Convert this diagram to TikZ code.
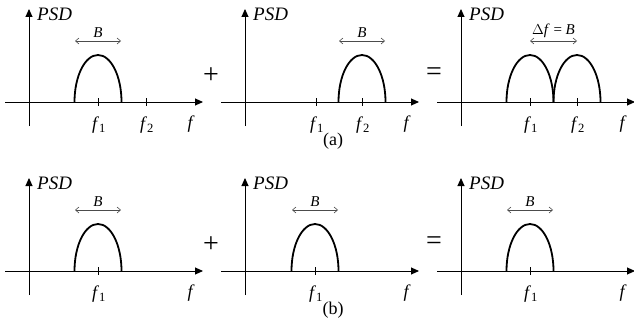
\documentclass[tikz,border=0pt]{standalone}
\usepackage{fontspec}
\setmainfont{Liberation Serif}
\usetikzlibrary{arrows.meta}

\begin{document}
\begin{tikzpicture}[x=1pt, y=-1pt,
  axis/.style={-{Triangle[length=8pt,width=7pt]}, line width=0.9pt},
  hump/.style={line width=1.8pt},
  bwidth/.style={{Straight Barb[length=3.5pt,width=6pt]}-{Straight Barb[length=3.5pt,width=6pt]},
                 line width=0.6pt, black!70},
  tick/.style={line width=0.8pt},
  psdlab/.style={font=\fontsize{19}{22}\selectfont\itshape, inner sep=0pt},
  lab/.style={font=\fontsize{18}{21}\selectfont\itshape, inner sep=0pt},
  blab/.style={font=\fontsize{15}{17}\selectfont, inner sep=0pt},
  captext/.style={font=\fontsize{18}{20}\selectfont, inner sep=0pt},
  op/.style={font=\fontsize{28}{30}\selectfont, inner sep=0pt}
]
\useasboundingbox (0,0) rectangle (634,329);

% ---- axes of the six panels ----
\foreach \p/\ox/\oy in {a1/29/102, a2/245/102, a3/461/102, b1/29/271, b2/245/271, b3/461/271}{
  \coordinate (xl\p) at (\ox-24,\oy);
  \coordinate (xr\p) at (\ox+174,\oy);
  \coordinate (yb\p) at (\ox,\oy+24);
  \coordinate (yt\p) at (\ox,\oy-93);
  \draw[axis] (xl\p) -- (xr\p);
  \draw[axis] (yb\p) -- (yt\p);
  \node[psdlab, anchor=west] (psd\p) at (\ox+8,\oy-88) {PSD};
  \node[lab] (f\p) at (\ox+161,\oy+22) {f};
}

% ---- spectra ----
\foreach \cx/\cy in {98/102, 362/102, 530/102, 577/102, 98/271, 315/271, 530/271}{
  \draw[hump] (\cx-23.5,\cy) arc[start angle=180, end angle=0, x radius=23.5pt, y radius=47pt];
}

% ---- ticks and carrier labels ----
\foreach \n/\cx/\cy/\t in {a1i/98/102/1, a1ii/146/102/2, a2i/316/102/1, a2ii/362/102/2,
                            a3i/530/102/1, a3ii/577/102/2, b1i/98/271/1, b2i/315/271/1, b3i/530/271/1}{
  \draw[tick] (\cx,\cy-4) -- (\cx,\cy+4);
  \node[lab] (c\n) at (\cx+1,\cy+23) {f\textup{\textsubscript{\t}}};
}

% ---- bandwidth markers ----
\foreach \p/\cx/\cy in {a1/98/102, a2/362/102, b1/98/271, b2/315/271, b3/530/271}{
  \coordinate (bl\p) at (\cx-23,\cy-61);
  \coordinate (br\p) at (\cx+23,\cy-61);
  \draw[bwidth] (bl\p) -- (br\p);
  \node[blab] (bw\p) at (\cx,\cy-69) {\textit{B}};
}
\coordinate (bla3) at (530,41);
\coordinate (bra3) at (577,41);
\draw[bwidth] (bla3) -- (bra3);
\node[blab] (bwa3) at (553.5,31) {$\Delta$\textit{f} = \textit{B}};

% ---- operators and captions ----
\node[op] (plusa) at (211,76) {+};
\node[op] (eqa) at (434,74) {=};
\node[op] (plusb) at (211,245) {+};
\node[op] (eqb) at (434,243) {=};
\node[captext] (capa) at (333,141) {(a)};
\node[captext] (capb) at (333,310) {(b)};
\end{tikzpicture}
\end{document}
